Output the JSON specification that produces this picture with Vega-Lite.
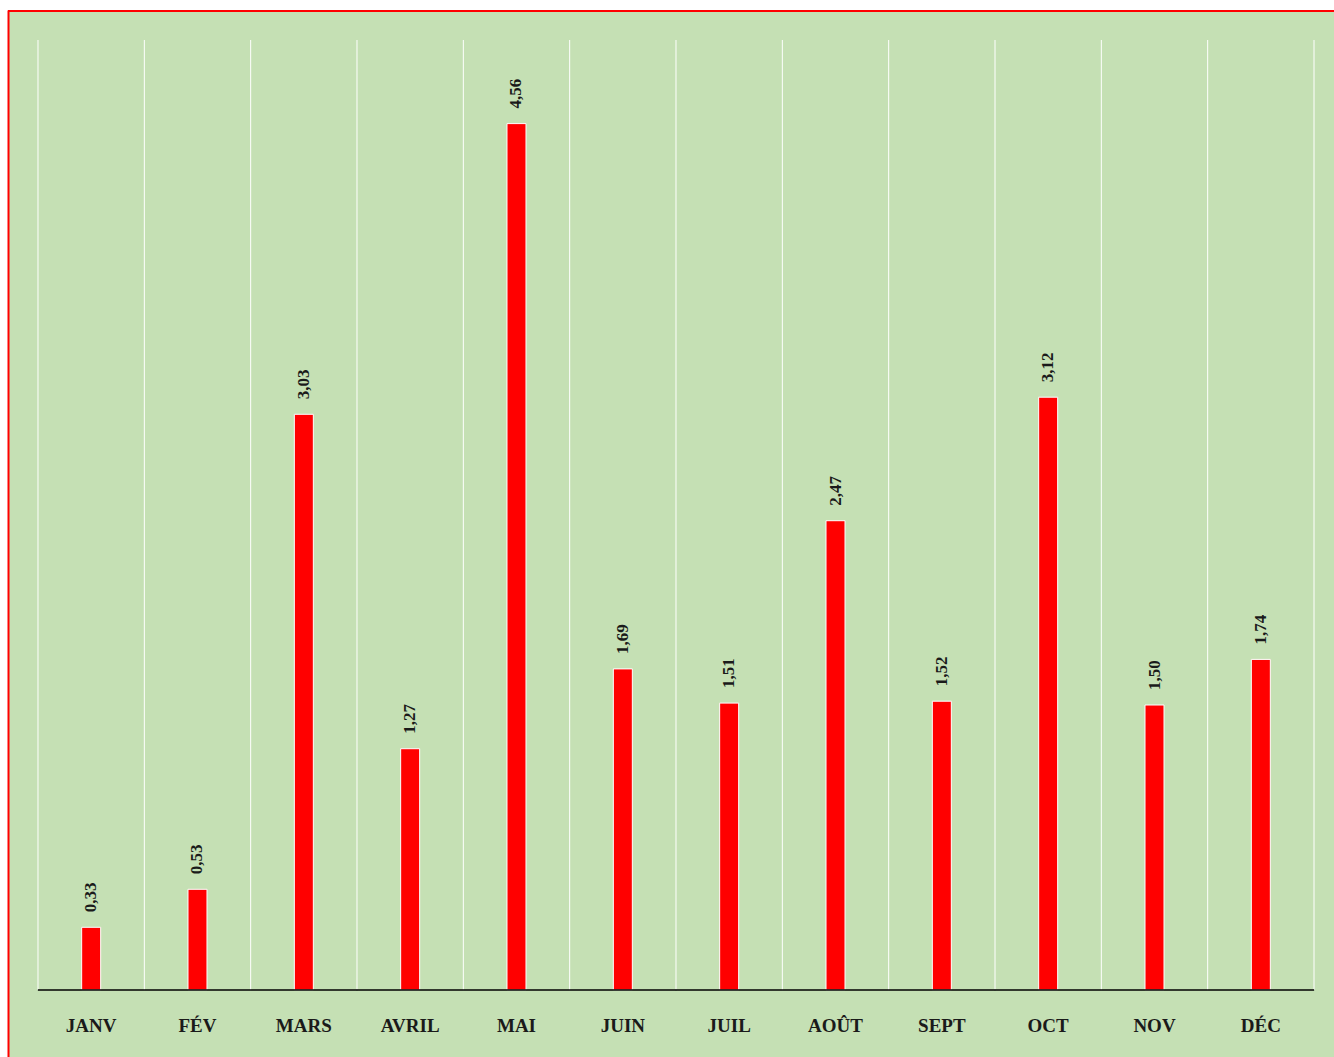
{
  "$schema": "https://vega.github.io/schema/vega-lite/v6.json",
  "width": 1326,
  "height": 1047,
  "padding": {"left": 7, "top": 10, "right": 0, "bottom": 0},
  "autosize": {"type": "pad"},
  "background": "white",
  "config": {
    "view": {"fill": "#C5E0B4", "stroke": null},
    "locale": {"number": {"decimal": ",", "thousands": " ", "grouping": [3], "currency": ["", " €"]}}
  },
  "data": {
    "values": [
      {"mois": "JANV", "valeur": 0.33},
      {"mois": "FÉV", "valeur": 0.53},
      {"mois": "MARS", "valeur": 3.03},
      {"mois": "AVRIL", "valeur": 1.27},
      {"mois": "MAI", "valeur": 4.56},
      {"mois": "JUIN", "valeur": 1.69},
      {"mois": "JUIL", "valeur": 1.51},
      {"mois": "AOÛT", "valeur": 2.47},
      {"mois": "SEPT", "valeur": 1.52},
      {"mois": "OCT", "valeur": 3.12},
      {"mois": "NOV", "valeur": 1.50},
      {"mois": "DÉC", "valeur": 1.74}
    ]
  },
  "layer": [
    {
      "mark": {"type": "rule", "color": "white", "strokeWidth": 1},
      "encoding": {
        "x": {
          "field": "mois",
          "type": "ordinal",
          "sort": null,
          "bandPosition": 0,
          "scale": {"paddingInner": 0, "paddingOuter": 0.2351, "align": 0.6},
          "axis": {
            "orient": "bottom",
            "offset": -67,
            "domain": false,
            "ticks": false,
            "grid": false,
            "title": null,
            "labelAngle": 0,
            "labelBaseline": "middle",
            "labelPadding": 35,
            "labelFont": "Liberation Serif",
            "labelFontSize": 19,
            "labelFontWeight": "bold",
            "labelColor": "#1a1a1a"
          }
        },
        "y": {
          "datum": 0,
          "type": "quantitative",
          "scale": {"domain": [-0.3526, 5.1579], "nice": false, "zero": false},
          "axis": {"title": null, "labels": false, "ticks": false, "grid": false, "domain": true, "domainColor": "#FF0000", "domainWidth": 2}
        },
        "y2": {"datum": 5}
      }
    },
    {
      "transform": [{"filter": "datum.mois === 'DÉC'"}],
      "mark": {"type": "rule", "color": "white", "strokeWidth": 1},
      "encoding": {
        "x": {"field": "mois", "type": "ordinal", "sort": null, "bandPosition": 1, "title": null},
        "y": {"datum": 0, "type": "quantitative"},
        "y2": {"datum": 5}
      }
    },
    {
      "mark": {"type": "rule", "color": "#FF0000", "strokeWidth": 2},
      "encoding": {
        "y": {"datum": 5.1526, "type": "quantitative"}
      }
    },
    {
      "mark": {"type": "bar", "color": "#FF0000", "stroke": "white", "strokeWidth": 1, "size": 19},
      "encoding": {
        "x": {"field": "mois", "type": "ordinal", "sort": null, "title": null},
        "y": {"field": "valeur", "type": "quantitative", "title": null},
        "y2": {"datum": 0}
      }
    },
    {
      "mark": {"type": "tick", "orient": "horizontal", "color": "black", "size": 106.6, "thickness": 1.5, "opacity": 1},
      "encoding": {
        "x": {"field": "mois", "type": "ordinal", "sort": null, "title": null},
        "y": {"datum": 0, "type": "quantitative"}
      }
    },
    {
      "mark": {
        "type": "text",
        "angle": 270,
        "align": "left",
        "baseline": "middle",
        "yOffset": -15,
        "font": "Liberation Serif",
        "fontSize": 17,
        "fontWeight": "bold",
        "color": "#1a1a1a"
      },
      "encoding": {
        "x": {"field": "mois", "type": "ordinal", "sort": null, "title": null},
        "y": {"field": "valeur", "type": "quantitative", "title": null},
        "text": {"field": "valeur", "type": "quantitative", "format": ".2f"}
      }
    }
  ]
}
